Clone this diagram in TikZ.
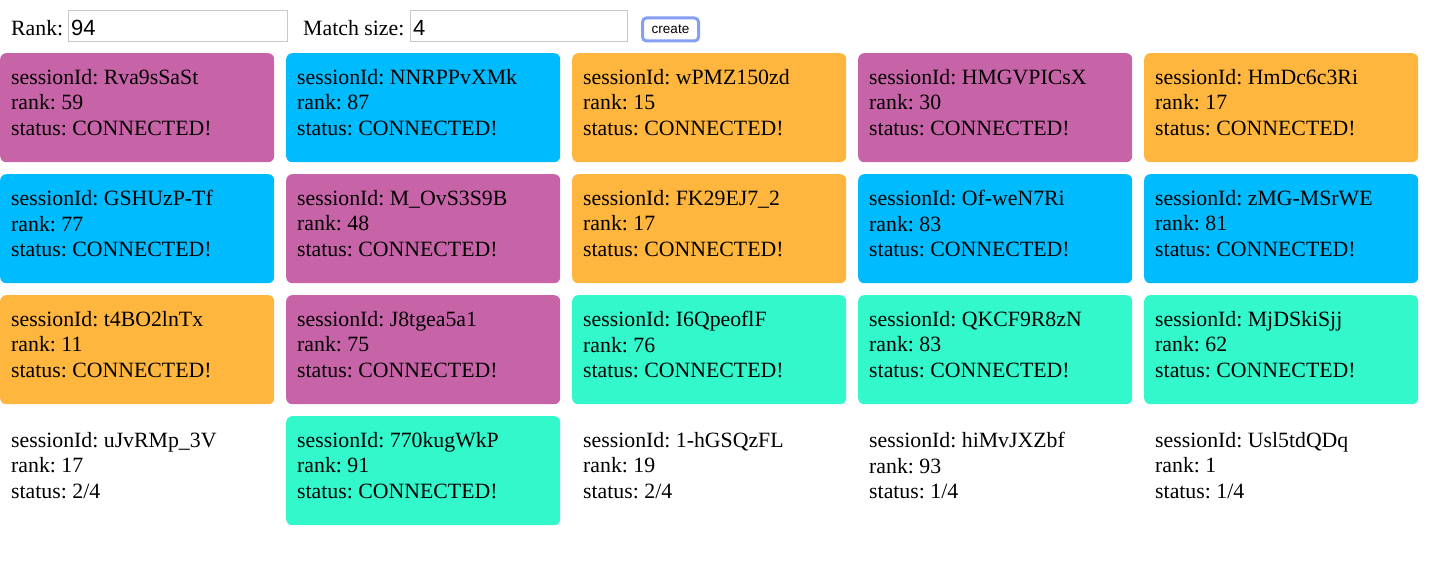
\documentclass[tikz,border=0pt]{standalone}
\usepackage{fontspec}
\setmainfont{Liberation Serif}
\newfontfamily\inputfont{Liberation Sans}
\frenchspacing
\definecolor{cpink}{HTML}{C764A8}
\definecolor{cblue}{HTML}{00BBFD}
\definecolor{corange}{HTML}{FFB63E}
\definecolor{cteal}{HTML}{33F8CC}
\definecolor{cframe}{HTML}{C8C8C8}
\definecolor{cfocus}{HTML}{859FF5}
\tikzset{
  card/.style={rectangle, rounded corners=6pt, minimum width=274pt, minimum height=109pt, anchor=north west, inner sep=0pt},
  pink/.style={card, fill=cpink},
  blue/.style={card, fill=cblue},
  orange/.style={card, fill=corange},
  teal/.style={card, fill=cteal},
  plain/.style={card},
  info/.style={anchor=north west, align=left, inner sep=0pt, font=\fontsize{21.8}{25.5}\selectfont},
  lbl/.style={anchor=base west, inner sep=0pt, font=\fontsize{21.8}{26}\selectfont},
  field/.style={rectangle, draw=cframe, line width=1pt, anchor=north west, inner sep=0pt, minimum height=31pt}
}
\begin{document}
\begin{tikzpicture}[x=1pt, y=-1pt]
\useasboundingbox (0,0) rectangle (1432,572);
% form
\node[lbl] (rk) at (11,36){Rank:};
\node[field, minimum width=219pt] (rkin) at (68,10){};
\node[lbl, font=\inputfont\fontsize{22}{26}\selectfont] (rkval) at (71,36){94};
\node[lbl] (ms) at (303,36){Match size:};
\node[field, minimum width=217pt] (msin) at (410,10){};
\node[lbl, font=\inputfont\fontsize{22}{26}\selectfont] (msval) at (413,36){4};
\node[rectangle, rounded corners=4pt, draw=cfocus, line width=3pt, fill=white, minimum width=56pt, minimum height=23pt, inner sep=0pt, font=\inputfont\fontsize{13.5}{15}\selectfont] (btn) at (670.5,29.5){create};
% row 1
\node[pink] (sid1) at (0,53){};
\node[info] (inf1) at (11,69){sessionId: Rva9sSaSt\\rank: 59\\status: CONNECTED!};
\node[blue] (sid2) at (286,53){};
\node[info] (inf2) at (297,69){sessionId: NNRPPvXMk\\rank: 87\\status: CONNECTED!};
\node[orange] (sid3) at (572,53){};
\node[info] (inf3) at (583,69){sessionId: wPMZ150zd\\rank: 15\\status: CONNECTED!};
\node[pink] (sid4) at (858,53){};
\node[info] (inf4) at (869,69){sessionId: HMGVPICsX\\rank: 30\\status: CONNECTED!};
\node[orange] (sid5) at (1144,53){};
\node[info] (inf5) at (1155,69){sessionId: HmDc6c3Ri\\rank: 17\\status: CONNECTED!};
% row 2
\node[blue] (sid6) at (0,174){};
\node[info] (inf6) at (11,190){sessionId: GSHUzP-Tf\\rank: 77\\status: CONNECTED!};
\node[pink] (sid7) at (286,174){};
\node[info] (inf7) at (297,190){sessionId: M\_OvS3S9B\\rank: 48\\status: CONNECTED!};
\node[orange] (sid8) at (572,174){};
\node[info] (inf8) at (583,190){sessionId: FK29EJ7\_2\\rank: 17\\status: CONNECTED!};
\node[blue] (sid9) at (858,174){};
\node[info] (inf9) at (869,190){sessionId: Of-weN7Ri\\rank: 83\\status: CONNECTED!};
\node[blue] (sid10) at (1144,174){};
\node[info] (inf10) at (1155,190){sessionId: zMG-MSrWE\\rank: 81\\status: CONNECTED!};
% row 3
\node[orange] (sid11) at (0,295){};
\node[info] (inf11) at (11,311){sessionId: t4BO2lnTx\\rank: 11\\status: CONNECTED!};
\node[pink] (sid12) at (286,295){};
\node[info] (inf12) at (297,311){sessionId: J8tgea5a1\\rank: 75\\status: CONNECTED!};
\node[teal] (sid13) at (572,295){};
\node[info] (inf13) at (583,311){sessionId: I6QpeoflF\\rank: 76\\status: CONNECTED!};
\node[teal] (sid14) at (858,295){};
\node[info] (inf14) at (869,311){sessionId: QKCF9R8zN\\rank: 83\\status: CONNECTED!};
\node[teal] (sid15) at (1144,295){};
\node[info] (inf15) at (1155,311){sessionId: MjDSkiSjj\\rank: 62\\status: CONNECTED!};
% row 4
\node[plain] (sid16) at (0,416){};
\node[info] (inf16) at (11,432){sessionId: uJvRMp\_3V\\rank: 17\\status: 2/4};
\node[teal] (sid17) at (286,416){};
\node[info] (inf17) at (297,432){sessionId: 770kugWkP\\rank: 91\\status: CONNECTED!};
\node[plain] (sid18) at (572,416){};
\node[info] (inf18) at (583,432){sessionId: 1-hGSQzFL\\rank: 19\\status: 2/4};
\node[plain] (sid19) at (858,416){};
\node[info] (inf19) at (869,432){sessionId: hiMvJXZbf\\rank: 93\\status: 1/4};
\node[plain] (sid20) at (1144,416){};
\node[info] (inf20) at (1155,432){sessionId: Usl5tdQDq\\rank: 1\\status: 1/4};

\end{tikzpicture}
\end{document}
